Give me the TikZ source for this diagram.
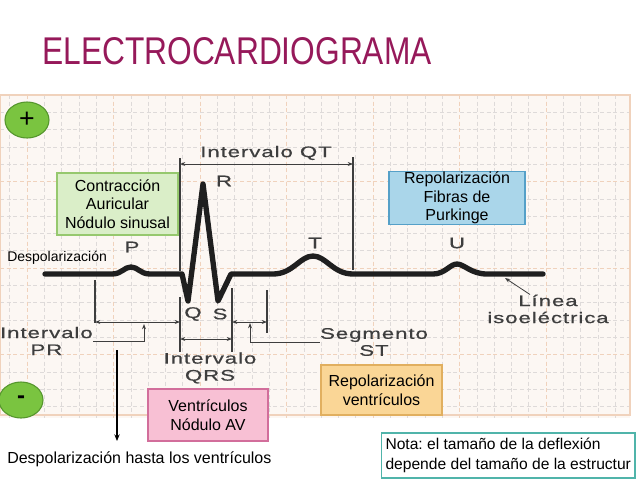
\documentclass[tikz,border=0pt]{standalone}
\usepackage{fontspec}
\setmainfont{Liberation Sans}
\newfontfamily\ecgfont[FakeStretch=1.45,LetterSpace=6,FakeBold=0.6]{Liberation Sans}
\newfontfamily\titlefont[FakeStretch=0.82]{Liberation Sans}
\usetikzlibrary{arrows.meta,positioning,shapes.geometric,calc}
\frenchspacing
\definecolor{titleRed}{RGB}{150,25,90}
\definecolor{paper}{RGB}{252,247,243}
\definecolor{gridMinor}{RGB}{222,218,217}
\definecolor{gridMajor}{RGB}{240,210,188}
\definecolor{inkGray}{RGB}{62,62,62}
\definecolor{signGreen}{RGB}{122,196,64}
\definecolor{signEdge}{RGB}{85,150,45}
\definecolor{greenFill}{RGB}{218,238,200}
\definecolor{greenEdge}{RGB}{150,200,110}
\definecolor{blueFill}{RGB}{170,214,234}
\definecolor{blueEdge}{RGB}{85,160,200}
\definecolor{orangeFill}{RGB}{250,214,150}
\definecolor{orangeEdge}{RGB}{225,175,95}
\definecolor{pinkFill}{RGB}{248,192,212}
\definecolor{pinkEdge}{RGB}{210,110,155}
\definecolor{notaEdge}{RGB}{80,180,170}
\tikzset{
  box/.style={rectangle, draw, thick, align=center, inner sep=0pt, font=\fontsize{12}{14}\selectfont},
  sign/.style={ellipse, draw=signEdge, thick, fill=signGreen, minimum width=33pt, minimum height=27pt, inner sep=0pt},
  wave/.style={line width=4pt, line join=round, line cap=round, draw=black!88},
  ecglabel/.style={font={\ecgfont\fontsize{11.5}{12.75}\selectfont}, text=inkGray, align=center, inner sep=0pt},
  guide/.style={draw=inkGray, line width=0.8pt},
  span/.style={{Stealth[length=4pt,width=3pt]}-{Stealth[length=4pt,width=3pt]}, draw=inkGray, line width=0.6pt},
  pointer/.style={-{Stealth[length=4pt,width=3pt]}, draw=inkGray, line width=0.6pt}
}
\begin{document}
\begin{tikzpicture}[x=0.75pt,y=-0.75pt]
  \useasboundingbox (0,0) rectangle (638,479);
  \fill[white] (0,0) rectangle (638,479);
  % ECG paper
  \fill[paper] (0,95) rectangle (630,418);
  \foreach \k in {-1,...,34} \draw[gridMinor, line width=0.4pt, densely dashed] ({27+17.3*\k},95) -- ({27+17.3*\k},418);
  \foreach \k in {1,...,18} \draw[gridMinor, line width=0.4pt, densely dashed] (0,{95+17.3*\k}) -- (630,{95+17.3*\k});
  \foreach \k in {0,...,6} \draw[gridMajor, line width=0.6pt, densely dashed] ({27+86.5*\k},95) -- ({27+86.5*\k},418);
  \foreach \k in {1,2,3} \draw[gridMajor, line width=0.6pt, densely dashed] (0,{95+86.5*\k}) -- (630,{95+86.5*\k});
  \draw[gridMajor, line width=0.8pt] (0,95) rectangle (630,415);

  \node[font=\titlefont\fontsize{29}{32}\selectfont, text=titleRed] (title) at (237,51) {ELECTROCARDIOGRAMA};

  % trace
  \draw[wave] (45,274) -- (112,274)
    .. controls (122,274) and (124,267) .. (131,267)
    .. controls (138,267) and (140,274) .. (150,274) -- (182,274)
    -- (188,301) -- (203,184) -- (218,301) -- (231,274) -- (273,274)
    .. controls (293,274) and (300,256) .. (313,256)
    .. controls (326,256) and (333,274) .. (353,274) -- (433,274)
    .. controls (445,274) and (450,264) .. (457,264)
    .. controls (464,264) and (471,274) .. (487,274) -- (543,274);

  % wave labels
  \node[ecglabel] (pw) at (132,247) {P};
  \node[ecglabel] (rw) at (224,181) {R};
  \node[ecglabel] (tw) at (315,243) {T};
  \node[ecglabel] (uw) at (457,243) {U};
  \node[ecglabel] (qw) at (193,314) {Q};
  \node[ecglabel] (sw) at (220,314) {S};

  % intervals
  \draw[guide] (180,158) -- (180,271);
  \draw[guide] (353,157) -- (353,270);
  \draw[span] (180,164) -- (353,164);
  \node[ecglabel] (qtlab) at (266,153) {Intervalo QT};

  \draw[guide] (95,280) -- (95,323);
  \draw[guide] (180,297) -- (180,352);
  \draw[guide] (232,288) -- (232,352);
  \draw[guide] (267,290) -- (267,333);
  \draw[span] (95,322) -- (180,322);
  \draw[span] (180,339) -- (232,339);
  \draw[span] (232,322) -- (267,322);

  \node[ecglabel, anchor=east] (prlab) at (93,341) {Intervalo\\PR};
  \node[ecglabel] (qrslab) at (210,368) {Intervalo\\QRS};
  \node[ecglabel] (stlab) at (374,342) {Segmento\\ST};
  \node[ecglabel] (isolab) at (548,309) {Línea\\isoeléctrica};
  \draw[pointer] (prlab.east) -| (144,324);
  \draw[pointer] (stlab.west) -| (250,323);
  \draw[pointer] ($(isolab.north)+(-18,0)$) -- (505,278);

  % polarity signs
  \node[sign, font=\fontsize{20}{20}\selectfont] (plus) at (27,120) {+};
  \node[sign, font=\bfseries\fontsize{18}{18}\selectfont] (minus) at (21,400) {-};

  % boxes
  \node[box, draw=greenEdge, fill=greenFill, minimum width=90.75pt, minimum height=46.5pt] (auric) at (117.5,204) {Contracción\\Auricular\\Nódulo sinusal};
  \node[box, draw=blueEdge, fill=blueFill, minimum width=102pt, minimum height=37.5pt] (purk) at (457,198) {Repolarización\\Fibras de\\Purkinge};
  \node[box, draw=orangeEdge, fill=orangeFill, minimum width=90.75pt, minimum height=37.5pt] (repol) at (381.5,390) {Repolarización\\ventrículos};
  \node[box, draw=pinkEdge, fill=pinkFill, minimum width=90pt, minimum height=39pt] (avnode) at (208,415) {Ventrículos\\Nódulo AV};
  \node[box, draw=notaEdge, fill=white, align=left, anchor=west, inner xsep=3pt, minimum height=33.75pt, font=\fontsize{11.7}{15.5}\selectfont] (nota) at (381,455.5) {Nota: el tamaño de la deflexión\\depende del tamaño de la estructur};

  \node[anchor=base west, inner sep=0pt, font=\fontsize{10.5}{12}\selectfont] (despol) at (7,261) {Despolarización};
  \node[anchor=base west, inner sep=0pt, font=\fontsize{12}{14}\selectfont] (hasta) at (7,463) {Despolarización hasta los ventrículos};
  \draw[-{Stealth[length=5pt,width=4pt]}, line width=0.8pt, black] (117,350) -- (117,441);
\end{tikzpicture}
\end{document}
